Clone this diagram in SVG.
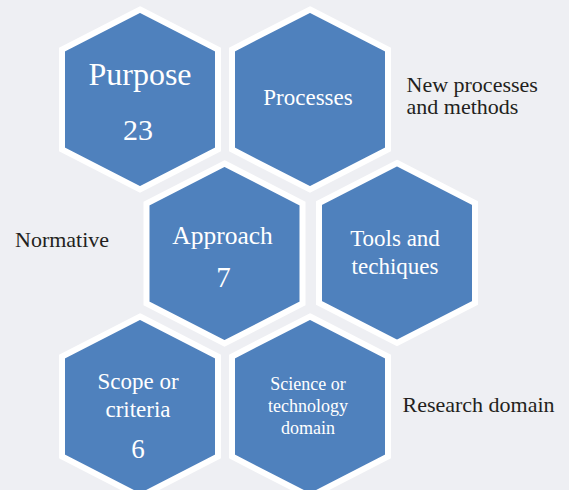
<svg xmlns="http://www.w3.org/2000/svg" width="569" height="490" viewBox="0 0 569 490">
<style>
.hex{fill:#4f81bd;stroke:#ffffff;stroke-width:6;stroke-linejoin:miter}
text{font-family:'Liberation Serif','Times New Roman',Tinos,'DejaVu Serif',serif}
.t{fill:#ffffff;text-anchor:middle}
.lbl{fill:#231f20;font-size:22px}
</style>
<defs>
<polygon id="hexshape" class="hex" points="0,-90 78,-50 78,50 0,90 -78,50 -78,-50"/>
</defs>
<rect x="0" y="0" width="569" height="490" fill="#eeeff3"/>
<g id="purpose" transform="translate(140,99.5)">
<use href="#hexshape"/>
<text class="t" x="0" y="-14.5" font-size="32">Purpose</text>
<text class="t" x="-2" y="40.5" font-size="30">23</text>
</g>
<g id="processes" transform="translate(310,99.5)">
<use href="#hexshape"/>
<text class="t" x="-2" y="5.5" font-size="23">Processes</text>
</g>
<g id="approach" transform="translate(224.5,253.5)">
<use href="#hexshape"/>
<text class="t" x="-2" y="-10" font-size="25.5">Approach</text>
<text class="t" x="-1" y="33" font-size="29">7</text>
</g>
<g id="tools" transform="translate(397,253)">
<use href="#hexshape"/>
<text class="t" x="-2" y="-7" font-size="23">Tools and</text>
<text class="t" x="-2" y="21" font-size="23">techiques</text>
</g>
<g id="scope" transform="translate(140,406.5)">
<use href="#hexshape"/>
<text class="t" x="-2" y="-18" font-size="23">Scope or</text>
<text class="t" x="-2" y="10" font-size="23">criteria</text>
<text class="t" x="-2" y="51.5" font-size="27">6</text>
</g>
<g id="science" transform="translate(310,406.5)">
<use href="#hexshape"/>
<text class="t" x="-2" y="-16.5" font-size="18">Science or</text>
<text class="t" x="-2" y="5.2" font-size="18">technology</text>
<text class="t" x="-2" y="27" font-size="18">domain</text>
</g>
<g id="labels">
<text class="lbl" x="406.5" y="91.5">New processes</text>
<text class="lbl" x="406.5" y="113.5">and methods</text>
<text class="lbl" x="15" y="247.3">Normative</text>
<text class="lbl" x="402.5" y="412.3">Research domain</text>
</g>
<g id="connectors"></g>
</svg>
